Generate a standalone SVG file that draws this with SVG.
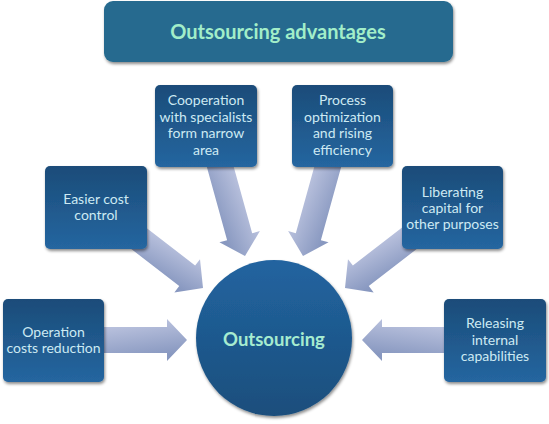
<svg xmlns="http://www.w3.org/2000/svg" width="549" height="424" viewBox="0 0 549 424">
<defs>
<linearGradient id="boxg" x1="0" y1="0" x2="0" y2="1">
<stop offset="0" stop-color="#1b4c79"/>
<stop offset="1" stop-color="#2566a0"/>
</linearGradient>
<linearGradient id="circg" x1="0" y1="0" x2="0" y2="1">
<stop offset="0" stop-color="#2264a0"/>
<stop offset="1" stop-color="#1a4e7c"/>
</linearGradient>
<linearGradient id="arrg" x1="0" y1="0" x2="0.3" y2="1">
<stop offset="0" stop-color="#c6cce5"/>
<stop offset="1" stop-color="#8898c0"/>
</linearGradient>
<filter id="sh" x="-20%" y="-20%" width="140%" height="140%">
<feDropShadow dx="1" dy="2" stdDeviation="1.5" flood-color="#000" flood-opacity="0.45"/>
</filter>
</defs>
<style>
.box{fill:url(#boxg);filter:url(#sh)}
.t{font-family:Lato,"Open Sans","Liberation Sans",sans-serif;font-size:14px;fill:#cdeaf3;text-anchor:middle}
.a{fill:url(#arrg)}
</style>
<rect width="549" height="424" fill="#ffffff"/>

<g id="connectors">
<path class="a" d="M -92,-13 L -20,-13 L -20,-21 L 0,0 L -20,21 L -20,13 L -92,13 Z" transform="translate(187,340)"/>
<path class="a" d="M -93,-13 L -20,-13 L -20,-21 L 0,0 L -20,21 L -20,13 L -93,13 Z" transform="translate(362,340) scale(-1,1)"/>
<path class="a" d="M -90,-13 L -20,-13 L -20,-21 L 0,0 L -20,21 L -20,13 L -90,13 Z" transform="translate(203,288) rotate(37.7)"/>
<path class="a" d="M -90,-13 L -20,-13 L -20,-21 L 0,0 L -20,21 L -20,13 L -90,13 Z" transform="translate(345,288) scale(-1,1) rotate(37.7)"/>
<path class="a" d="M -100,-13 L -20,-13 L -20,-21 L 0,0 L -20,21 L -20,13 L -100,13 Z" transform="translate(245,256) rotate(74.5)"/>
<path class="a" d="M -100,-13 L -20,-13 L -20,-21 L 0,0 L -20,21 L -20,13 L -100,13 Z" transform="translate(303,256) scale(-1,1) rotate(74.5)"/>
</g>

<g id="title">
<rect x="104" y="1" width="349" height="61" rx="9" fill="#256b8f" filter="url(#sh)"/>
<text x="278" y="39" font-family="Lato,'Open Sans','Liberation Sans',sans-serif" font-size="20" font-weight="bold" fill="#a2eec9" text-anchor="middle">Outsourcing advantages</text>
</g>

<g id="center">
<circle cx="274" cy="338" r="78" fill="url(#circg)" filter="url(#sh)"/>
<text x="274" y="346" font-family="Lato,'Open Sans','Liberation Sans',sans-serif" font-size="18.5" font-weight="bold" fill="#a6ecd0" text-anchor="middle">Outsourcing</text>
</g>

<g id="cooperation">
<rect class="box" x="155" y="85" width="102" height="82" rx="5"/>
<text class="t" x="206" y="105">Cooperation</text>
<text class="t" x="206" y="122">with specialists</text>
<text class="t" x="206" y="138">form narrow</text>
<text class="t" x="206" y="155">area</text>
</g>

<g id="process">
<rect class="box" x="292" y="85" width="101" height="82" rx="5"/>
<text class="t" x="342.5" y="105">Process</text>
<text class="t" x="342.5" y="122">optimization</text>
<text class="t" x="342.5" y="138">and rising</text>
<text class="t" x="342.5" y="155">efficiency</text>
</g>

<g id="easier">
<rect class="box" x="45" y="166" width="102" height="83" rx="5"/>
<text class="t" x="96" y="204">Easier cost</text>
<text class="t" x="96" y="220">control</text>
</g>

<g id="liberating">
<rect class="box" x="402" y="166" width="101" height="83" rx="5"/>
<text class="t" x="452.5" y="197">Liberating</text>
<text class="t" x="452.5" y="213">capital for</text>
<text class="t" x="452.5" y="229">other purposes</text>
</g>

<g id="operation">
<rect class="box" x="3" y="299" width="101" height="83" rx="5"/>
<text class="t" x="53.5" y="337">Operation</text>
<text class="t" x="53.5" y="353">costs reduction</text>
</g>

<g id="releasing">
<rect class="box" x="444" y="299" width="102" height="83" rx="5"/>
<text class="t" x="495" y="328">Releasing</text>
<text class="t" x="495" y="345">internal</text>
<text class="t" x="495" y="361">capabilities</text>
</g>
</svg>
